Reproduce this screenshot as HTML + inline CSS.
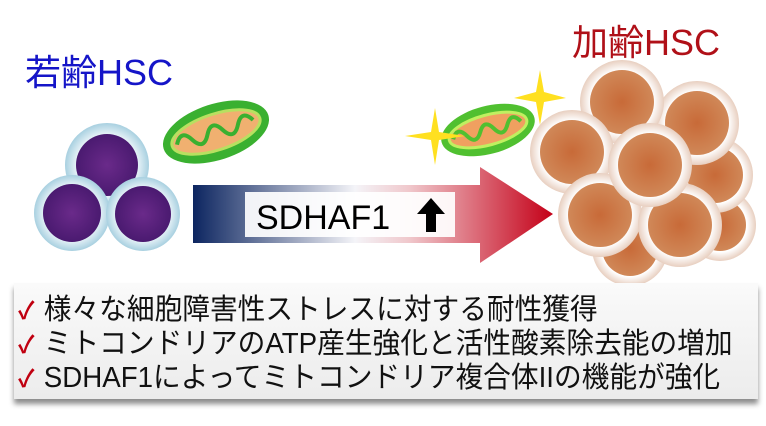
<!DOCTYPE html>
<html><head><meta charset="utf-8"><style>
body{margin:0;width:766px;height:426px;background:#fff;overflow:hidden;position:relative;font-family:"Liberation Sans","Noto Sans CJK JP",sans-serif}
.t{position:absolute;font-size:36px;white-space:nowrap}
.box{position:absolute;left:14px;top:283px;width:744px;height:116px;background:linear-gradient(#fafafa,#ececec);box-shadow:0 5px 5px rgba(0,0,0,0.45)}
.ln{position:absolute;left:4px;font-size:29px;white-space:nowrap;transform-origin:left center;transform:scaleX(0.955);color:#111}
.ck{color:#c00010;display:inline-block;width:27px;font-size:24px;font-weight:bold}
</style></head><body>
<div class="t" style="left:25px;top:44px;color:#1515c8">若齢HSC</div>
<div class="t" style="left:572px;top:14px;color:#b01018">加齢HSC</div>
<svg width="766" height="426" style="position:absolute;left:0;top:0">
<defs>
<linearGradient id="ag" x1="193" x2="553" gradientUnits="userSpaceOnUse">
<stop offset="0" stop-color="#0c2560"/><stop offset="0.45" stop-color="#f4f4f8"/><stop offset="0.6" stop-color="#f0c8cc"/><stop offset="1" stop-color="#c40018"/></linearGradient>
<radialGradient id="pu"><stop offset="0" stop-color="#6a2a8a"/><stop offset="1" stop-color="#4a1a70"/></radialGradient>
<radialGradient id="bl"><stop offset="0.7" stop-color="#eef6fa"/><stop offset="1" stop-color="#a8d0e0"/></radialGradient>
<radialGradient id="or"><stop offset="0" stop-color="#c86a38"/><stop offset="1" stop-color="#d08858"/></radialGradient>
<radialGradient id="wh"><stop offset="0.75" stop-color="#fff"/><stop offset="1" stop-color="#e8cfc0"/></radialGradient>
</defs>
<polygon points="193,185 480,185 480,167 553,214 480,263 480,243 193,243" fill="url(#ag)"/>
<rect x="245" y="192" width="210" height="45" fill="#fff" opacity="0.92"/>
<text x="256" y="229" font-size="34" font-family="Liberation Sans">SDHAF1</text>
<polygon points="431,198 445,214 436,214 436,232 426,232 426,214 417,214" fill="#000"/>
<g><circle cx="107" cy="165" r="42" fill="url(#bl)"/><circle cx="107" cy="165" r="31" fill="url(#pu)"/>
<circle cx="72" cy="213" r="38" fill="url(#bl)"/><circle cx="72" cy="213" r="29" fill="url(#pu)"/>
<circle cx="143" cy="214" r="37" fill="url(#bl)"/><circle cx="143" cy="214" r="28" fill="url(#pu)"/></g>
<g transform="rotate(-18 216 132)"><ellipse cx="216" cy="132" rx="55" ry="28" fill="#3ab030"/><ellipse cx="216" cy="132" rx="46" ry="18" fill="#f0b070" stroke="#b8e060" stroke-width="3"/>
<path d="M175 132 q8 -14 16 0 t16 0 t16 0 t16 0 t16 0" stroke="#3ab030" stroke-width="4" fill="none"/></g>
<g transform="rotate(-15 488 130)"><ellipse cx="488" cy="130" rx="48" ry="24" fill="#50c030"/><ellipse cx="488" cy="130" rx="40" ry="15" fill="#f0a060" stroke="#c0f060" stroke-width="3"/>
<path d="M452 130 q7 -12 14 0 t14 0 t14 0 t14 0 t14 0" stroke="#50c030" stroke-width="4" fill="none"/></g>
<g fill="#ffe020"><polygon points="435,108 439,132 465,136 439,140 435,165 431,140 405,136 431,132"/>
<polygon points="540,70 544,92 566,98 544,102 540,125 536,102 514,98 536,92"/></g>
<g>
<circle cx="720" cy="225" r="36" fill="url(#wh)"/><circle cx="720" cy="225" r="26" fill="url(#or)"/>
<circle cx="630" cy="248" r="38" fill="url(#wh)"/><circle cx="630" cy="248" r="28" fill="url(#or)"/>
<circle cx="715" cy="175" r="38" fill="url(#wh)"/><circle cx="715" cy="175" r="28" fill="url(#or)"/>
<circle cx="697" cy="123" r="42" fill="url(#wh)"/><circle cx="697" cy="123" r="32" fill="url(#or)"/>
<circle cx="622" cy="102" r="42" fill="url(#wh)"/><circle cx="622" cy="102" r="32" fill="url(#or)"/>
<circle cx="572" cy="152" r="42" fill="url(#wh)"/><circle cx="572" cy="152" r="32" fill="url(#or)"/>
<circle cx="600" cy="215" r="42" fill="url(#wh)"/><circle cx="600" cy="215" r="32" fill="url(#or)"/>
<circle cx="680" cy="225" r="42" fill="url(#wh)"/><circle cx="680" cy="225" r="32" fill="url(#or)"/>
<circle cx="650" cy="165" r="42" fill="url(#wh)"/><circle cx="650" cy="165" r="32" fill="url(#or)"/>
</g>
</svg>
<div class="box">
<div class="ln" style="top:3px"><span class="ck">✓</span>様々な細胞障害性ストレスに対する耐性獲得</div>
<div class="ln" style="top:37px"><span class="ck">✓</span>ミトコンドリアのATP産生強化と活性酸素除去能の増加</div>
<div class="ln" style="top:71px"><span class="ck">✓</span>SDHAF1によってミトコンドリア複合体IIの機能が強化</div>
</div>
</body></html>
